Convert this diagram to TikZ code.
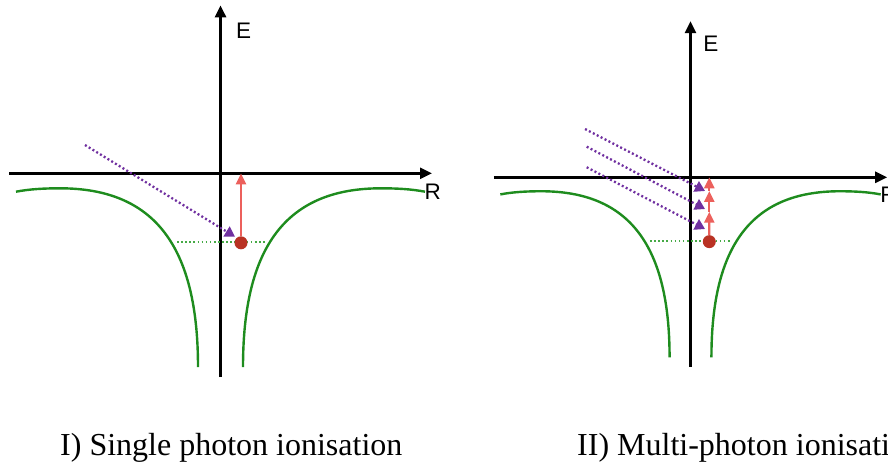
\documentclass[tikz,border=0pt]{standalone}
\usepackage{fontspec}
\setmainfont{Liberation Serif}
\newfontfamily\axisfont{Liberation Sans}
\usetikzlibrary{arrows.meta}

\definecolor{wellgreen}{RGB}{30,140,30}
\definecolor{levelgreen}{RGB}{70,170,70}
\definecolor{photonred}{RGB}{236,96,92}
\definecolor{electron}{RGB}{185,50,35}
\definecolor{laser}{RGB}{112,48,160}

\tikzset{
  axis/.style={line width=2.6pt, -{Triangle[length=12pt,width=11pt]}},
  well/.style={wellgreen, line width=2.4pt},
  level/.style={levelgreen, line width=1.4pt, dash pattern=on 1.6pt off 2.5pt},
  excite/.style={photonred, line width=2.4pt, -{Triangle[length=11pt,width=10pt]}},
  beam/.style={laser, line width=2.3pt, dash pattern=on 2pt off 2.4pt, -{Triangle[length=10pt,width=11.5pt]}},
  electronball/.style={circle, fill=electron, inner sep=0pt, minimum size=13pt},
  axislabel/.style={font=\axisfont\fontsize{22.5}{26}\selectfont, anchor=west, inner sep=0pt},
  caption/.style={font=\fontsize{32}{36}\selectfont, anchor=base west, inner sep=0pt},
}

\begin{document}
\begin{tikzpicture}[x=1pt,y=1pt]
\useasboundingbox (0,0) rectangle (888,-466);
\clip (0,0) rectangle (888,-466);

% ---------- Panel I ----------
\begin{scope}[shift={(220.5,-173.3)}]
  \coordinate (aYb) at (0,-203.7);
  \coordinate (aYt) at (0,168);
  \coordinate (aXl) at (-211.5,0);
  \coordinate (aXr) at (211.5,0);
  \draw[axis] (aYb) -- (aYt);
  \draw[axis] (aXl) -- (aXr);
  \node[axislabel] (aE) at (15.5,143) {E};
  \node[axislabel] (aR) at (204,-18.7) {R};
  \draw[well] (-204.5,-18.4) .. controls (-190.5,-15.7) and (-175.5,-15) .. (-160.5,-15)
              .. controls (-65.5,-15) and (-22.5,-73.7) .. (-22.5,-193.7);
  \draw[well] (204.5,-18.4) .. controls (190.5,-15.7) and (175.5,-15) .. (160.5,-15)
              .. controls (65.5,-15) and (22.5,-73.7) .. (22.5,-193.7);
  \coordinate (aL1) at (-43.5,-68.7);
  \coordinate (aL2) at (44.5,-68.7);
  \draw[level] (aL1) -- (aL2);
  \coordinate (ap0) at (-135.5,28.3);
  \coordinate (ap1) at (14.5,-63.4);
  \draw[beam] (ap0) -- (ap1);
  \node[electronball] (ae) at (20.5,-69.5) {};
  \coordinate (aion) at (20.5,0);
  \draw[excite] (ae) -- (aion);
\end{scope}

% ---------- Panel II ----------
\begin{scope}[shift={(690.5,-177.3)}, scale=0.93]
  \coordinate (bYb) at (0,-203.7);
  \coordinate (bYt) at (0,168);
  \coordinate (bXl) at (-211.5,0);
  \coordinate (bXr) at (211.5,0);
  \draw[axis] (bYb) -- (bYt);
  \draw[axis] (bXl) -- (bXr);
  \node[axislabel] (bE) at (13.5,144) {E};
  \node[axislabel] (bR) at (204,-18.7) {R};
  \draw[well] (-204.5,-18.4) .. controls (-190.5,-15.7) and (-175.5,-15) .. (-160.5,-15)
              .. controls (-65.5,-15) and (-22.5,-73.7) .. (-22.5,-193.7);
  \draw[well] (204.5,-18.4) .. controls (190.5,-15.7) and (175.5,-15) .. (160.5,-15)
              .. controls (65.5,-15) and (22.5,-73.7) .. (22.5,-193.7);
  \coordinate (bL1) at (-43.5,-68.7);
  \coordinate (bL2) at (44.5,-68.7);
  \draw[level] (bL1) -- (bL2);
  \coordinate (bp0a) at (-113.4,51.9);
  \coordinate (bp1a) at (15.6,-14.7);
  \coordinate (bp0b) at (-111.6,32.9);
  \coordinate (bp1b) at (15.6,-34.1);
  \coordinate (bp0c) at (-111.6,10.8);
  \coordinate (bp1c) at (15.6,-55.6);
  \draw[beam] (bp0a) -- (bp1a);
  \draw[beam] (bp0b) -- (bp1b);
  \draw[beam] (bp0c) -- (bp1c);
  \node[electronball] (be) at (20.2,-69.2) {};
  \coordinate (bt3) at (20.2,-37);
  \coordinate (bt2) at (20.2,-14.7);
  \coordinate (bt1) at (20.2,0);
  \draw[excite] (be) -- (bt3);
  \draw[excite] (bt3) -- (bt2);
  \draw[excite] (bt2) -- (bt1);
\end{scope}

% ---------- Captions ----------
\node[caption] (capI) at (60,-455) {I) Single photon ionisation};
\node[caption] (capII) at (577,-455) {II) Multi-photon ionisation};
\end{tikzpicture}
\end{document}
